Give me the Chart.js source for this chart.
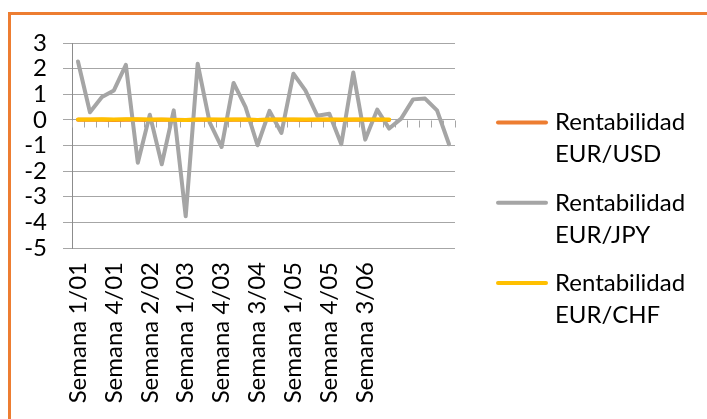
<!DOCTYPE html>
<html>
<head>
<meta charset="utf-8">
<script src="https://cdn.jsdelivr.net/npm/chart.js@4/dist/chart.umd.min.js"></script>
<style>
  html, body { margin: 0; padding: 0; background: #ffffff; overflow: hidden; }
  #wrap { position: relative; width: 707px; height: 419px; }
  #frame { position: absolute; left: 8px; top: 12px; width: 730px; height: 440px;
           border-left: 3px solid #ED7D31; border-top: 3px solid #ED7D31; pointer-events: none; }
  canvas { position: absolute; left: 0; top: 0; }
</style>
</head>
<body>
<div id="wrap">
  <canvas id="c" width="707" height="419"></canvas>
  <div id="frame"></div>
</div>
<script>
// Week labels (week number / month)
const weekLabels = [
  'Semana 1/01', 'Semana 2/01', 'Semana 3/01', 'Semana 4/01', 'Semana 5/01',
  'Semana 1/02', 'Semana 2/02', 'Semana 3/02', 'Semana 4/02',
  'Semana 1/03', 'Semana 2/03', 'Semana 3/03', 'Semana 4/03',
  'Semana 1/04', 'Semana 2/04', 'Semana 3/04', 'Semana 4/04', 'Semana 5/04',
  'Semana 1/05', 'Semana 2/05', 'Semana 3/05', 'Semana 4/05',
  'Semana 1/06', 'Semana 2/06', 'Semana 3/06'
];

// Weekly returns
const rentUSD = [
  0.004, 0.002, 0.006, -0.003, 0.005, 0.001, -0.004, 0.003, 0.002,
  -0.002, 0.004, 0.001, -0.003, 0.002, 0.005, -0.001, 0.003, 0.002,
  0.004, -0.002, 0.001, 0.003, -0.004, 0.002, 0.001, 0.003, -0.002
];
const rentJPY = [
  2.28, 0.30, 0.89, 1.15, 2.15, -1.67, 0.20, -1.73, 0.37, -3.76,
  2.19, -0.10, -1.06, 1.44, 0.50, -0.99, 0.35, -0.51, 1.80, 1.15,
  0.16, 0.24, -0.95, 1.85, -0.77, 0.40, -0.34, 0.05, 0.80, 0.83,
  0.37, -0.95
];
const rentCHF = [
  0.01, 0.01, 0.02, 0.01, 0.02, 0.02, 0.01, 0.01, 0.00,
  0.00, 0.01, 0.01, 0.01, 0.01, 0.01, 0.00, 0.01, 0.01,
  0.01, 0.01, 0.01, 0.01, 0.01, 0.01, 0.01, 0.01, 0.01
];

const yTicks = [-5, -4, -3, -2, -1, 0, 1, 2, 3];

const categories = weekLabels.concat(new Array(rentJPY.length - weekLabels.length).fill(''));

const FONT = 'Lato';
const GRID = '#a6a6a6';

// Small tick marks hanging below the zero line at each category boundary
const zeroTicks = {
  id: 'zeroTicks',
  beforeDatasetsDraw(chart) {
    const { ctx, scales } = chart;
    const xs = scales.x, ys = scales.y;
    const y0 = Math.round(ys.getPixelForValue(0)) + 0.5;
    ctx.save();
    ctx.strokeStyle = GRID;
    ctx.lineWidth = 1;
    ctx.beginPath();
    for (let i = 0; i <= categories.length; i++) {
      const px = Math.round(xs.getPixelForValue(i - 0.5)) + 0.5;
      ctx.moveTo(px, y0);
      ctx.lineTo(px, y0 + 7);
    }
    ctx.stroke();
    ctx.restore();
  }
};

// Legend at the right, each series name on two lines
const sideLegend = {
  id: 'sideLegend',
  afterDraw(chart) {
    const { ctx } = chart;
    const x0 = 498, x1 = 546, tx = 555;
    const firstY = 122.5, step = 80.3, lineH = 32;
    ctx.save();
    chart.data.datasets.forEach((ds, i) => {
      const y = firstY + i * step;
      ctx.strokeStyle = ds.borderColor;
      ctx.lineWidth = 4;
      ctx.lineCap = 'round';
      ctx.beginPath();
      ctx.moveTo(x0, y);
      ctx.lineTo(x1, y);
      ctx.stroke();
      ctx.fillStyle = '#000000';
      ctx.font = '24px ' + FONT;
      ctx.textAlign = 'left';
      ctx.textBaseline = 'middle';
      const words = ds.label.split(' ');
      ctx.fillText(words[0], tx, y);
      ctx.fillText(words.slice(1).join(' '), tx, y + lineH);
    });
    ctx.restore();
  }
};

function draw() {
  new Chart(document.getElementById('c'), {
    type: 'line',
    data: {
      labels: categories,
      datasets: [
        { label: 'Rentabilidad EUR/USD', data: rentUSD, borderColor: '#ED7D31', order: 3 },
        { label: 'Rentabilidad EUR/JPY', data: rentJPY, borderColor: '#A5A5A5', order: 2 },
        { label: 'Rentabilidad EUR/CHF', data: rentCHF, borderColor: '#FFC000', order: 1 }
      ]
    },
    options: {
      responsive: false,
      animation: false,
      devicePixelRatio: 1,
      layout: { padding: { top: 43, right: 252, bottom: 0, left: 0 } },
      elements: {
        line: { borderWidth: 4, tension: 0, borderCapStyle: 'round', borderJoinStyle: 'round', fill: false },
        point: { radius: 0, hoverRadius: 0 }
      },
      plugins: { legend: { display: false }, tooltip: { enabled: false } },
      scales: {
        x: {
          offset: true,
          grid: { display: false, drawTicks: false },
          border: { display: false },
          ticks: {
            autoSkip: false,
            minRotation: 90,
            maxRotation: 90,
            padding: 14,
            color: '#000000',
            font: { family: FONT, size: 24 },
            callback: function (v, i) { return i % 3 === 0 ? this.getLabelForValue(v) : ''; }
          },
          afterFit: s => { s.height = 171; }
        },
        y: {
          min: yTicks[0],
          max: yTicks[yTicks.length - 1],
          afterBuildTicks: s => { s.ticks = yTicks.map(v => ({ value: v })); },
          grid: { color: GRID, lineWidth: 1, drawTicks: true, tickLength: 9 },
          border: { display: true, color: '#8c8c8c', width: 1 },
          ticks: { autoSkip: false, padding: 16, color: '#000000', font: { family: FONT, size: 24 } },
          afterFit: s => { s.width = 72; }
        }
      }
    },
    plugins: [zeroTicks, sideLegend]
  });
}

if (document.fonts && document.fonts.load) {
  document.fonts.load('24px ' + FONT).then(draw, draw);
} else {
  draw();
}
</script>
</body>
</html>
